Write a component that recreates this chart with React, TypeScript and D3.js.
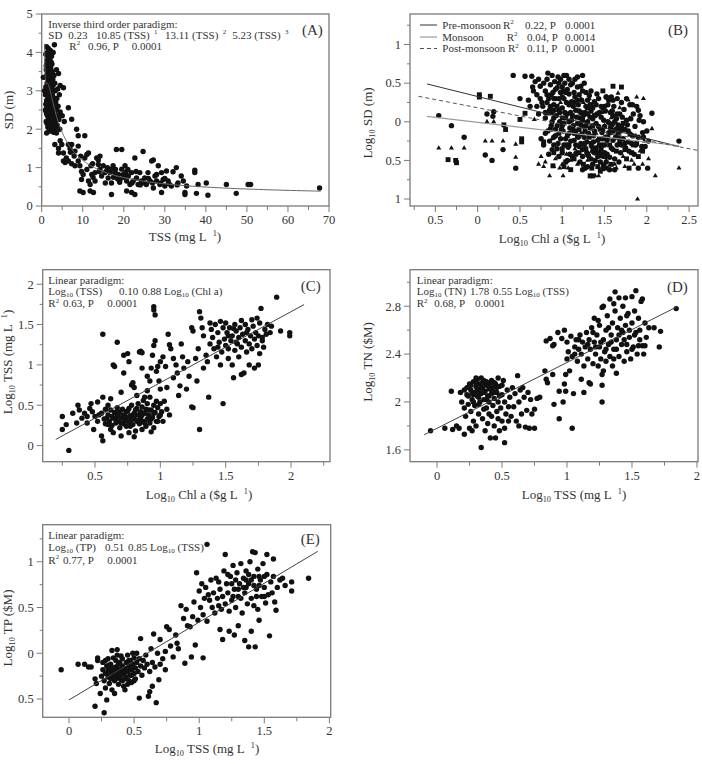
import React from "react";
import * as d3 from "d3";

type Pt = [number, number];

// ---------- (A) TSS (mg/L) vs Secchi depth (m) ----------
const tssSd: Pt[] = [
  [1.2,4.15],[1.6,4.1],[2.1,4.05],[3.1,4.2],[2.8,4.0],[1.0,3.95],[1.5,3.9],[2.0,3.85],[1.3,3.8],[1.8,3.75],
  [2.5,3.7],[1.1,3.65],[1.6,3.6],[2.2,3.6],[1.4,3.5],[2.0,3.45],[3.6,3.55],[4.1,3.45],[1.2,3.4],[1.7,3.35],
  [2.4,3.3],[0.8,3.35],[0.4,3.35],[1.5,3.25],[2.1,3.2],[2.8,3.15],[1.0,3.1],[1.6,3.05],[2.3,3.0],[1.3,2.95],
  [1.9,2.95],[2.6,2.9],[4.5,3.14],[5.3,3.08],[0.9,2.9],[1.5,2.85],[2.2,2.8],[3.0,2.8],[1.2,2.75],[1.8,2.7],
  [2.5,2.7],[3.4,2.7],[1.0,2.65],[1.6,2.6],[2.3,2.6],[4.0,2.6],[1.3,2.55],[2.0,2.5],[2.8,2.5],[3.6,2.5],
  [6.5,2.56],[1.1,2.45],[1.7,2.4],[2.4,2.4],[3.2,2.4],[4.5,2.45],[1.4,2.35],[2.1,2.3],[2.9,2.3],[5.0,2.35],
  [1.6,2.25],[2.3,2.2],[3.3,2.2],[4.2,2.25],[1.9,2.15],[2.7,2.1],[3.8,2.1],[5.5,2.2],[1.5,2.05],[2.4,2.0],
  [3.2,2.0],[4.4,2.0],[1.8,1.95],[2.9,1.92],[7.3,2.26],[8.5,2.0],[1.2,1.9],[1.9,1.95],[1.4,4.0],[1.9,3.95],
  [2.4,3.9],[1.2,3.7],[1.7,3.55],[2.6,3.5],[1.9,3.3],[1.3,3.2],[2.0,3.1],[2.6,3.05],[1.7,2.85],[2.1,2.65],
  [1.5,2.45],[1.9,2.35],[2.6,2.3],[1.3,2.15],[2.0,2.05],[2.6,1.98],[3.5,2.3],[3.0,2.6],[2.7,2.85],[3.3,3.0],
  [1.1,3.55],[0.7,3.0],[0.9,2.5],[1.1,2.2],[3.0,3.4],[2.3,3.75],[1.7,4.05],[2.4,2.15],[3.9,2.35],[3.1,2.15],
  [1.4,3.0],[1.8,2.9],[2.2,2.5],[1.6,2.15],[2.8,2.2],[1.3,2.6],[2.7,3.3],[3.2,3.2],[2.2,3.35],[1.8,3.1],
  [1.4,2.7],[2.0,2.75],[2.5,2.55],[1.7,2.5],[1.2,2.4],[2.3,2.45],[3.7,2.8],[4.3,2.9],[3.9,3.05],
  [3.6,1.9],[4.5,1.7],[4.1,1.5],[3.2,1.6],[4.9,1.6],[4.1,1.38],[5.3,1.38],[6.5,1.6],[7.3,1.6],[6.9,1.5],
  [8.9,1.56],[8.9,1.83],[10.5,1.83],[8.1,1.43],[5.3,1.17],[5.7,1.13],[6.5,1.17],[7.3,1.1],[8.1,1.05],[8.9,1.17],
  [9.3,1.05],[7.9,1.3],[10.5,1.25],[11,1.34],[11.4,1.38],[9.7,0.9],[10.1,0.82],[9.7,0.69],[9.3,0.39],[10.1,0.35],
  [11.8,0.39],[12.6,0.35],[11.4,0.65],[11.8,0.56],[12.2,0.82],[13,0.87],[13.4,1.25],[13.8,1.2],[14.2,1.3],[13.8,1.08],
  [14.2,0.95],[15,1.05],[15.4,0.87],[14.6,0.78],[15.8,0.91],[16.2,0.73],[16.6,0.87],[17,0.6],[17,0.3],[17.4,1.05],
  [17.8,0.87],[18.2,1.47],[18.7,0.82],[19.1,0.69],[19.5,1.47],[19.5,0.96],[19.9,0.82],[20.3,1.05],[20.7,0.65],[20.7,0.39],
  [21.1,0.78],[21.5,0.56],[21.9,0.87],[21.9,0.35],[22.3,0.65],[22.7,1.25],[22.7,0.3],[23.1,0.73],[23.5,0.56],[23.9,0.87],
  [24.3,0.65],[24.7,1.42],[25.1,0.73],[25.5,0.56],[25.9,0.87],[26.4,0.65],[26.8,1.17],[27.2,0.47],[27.2,1.2],[27.6,0.78],
  [28,0.65],[28.4,1.05],[28.8,0.56],[29.2,0.87],[29.2,0.35],[29.6,0.69],[30,0.52],[30.4,0.91],[30.8,0.65],[31.6,0.52],
  [32,0.89],[32.8,1.0],[33.2,0.6],[34,0.78],[34.5,0.65],[34.9,0.35],[34.9,0.3],[35.3,0.52],[37.3,0.93],[37.3,0.87],
  [37.7,0.33],[38.1,0.56],[40.1,0.6],[40.5,0.28],[45,0.56],[47.4,0.33],[50.3,0.56],[50.9,0.56],[67.7,0.47],
  [11,0.95],[12,1.05],[12.5,0.75],[13,0.65],[14,0.9],[15.5,0.6],[16,1.0],[17.5,0.75],[18,0.95],[19,0.62],
  [20,0.75],[21,0.95],[22,0.6],[23,0.9],[24,0.55],[25,0.6],[26,0.72],[27,0.6],[28,0.82],[29,0.6],
  [30,0.72],[31,0.58],[33,0.55],[6.0,1.25],[7.0,1.4],[9.5,1.3],[12.4,1.1],[16.8,0.95],[18.5,0.7],[20.5,0.88],
];
// fitted inverse third-order model: SD = 0.23 + 10.85/TSS - 13.11/TSS^2 + 5.23/TSS^3
const invCoef = [0.23, 10.85, -13.11, 5.23];
const invRange: [number, number] = [0.7, 68];

// ---------- (B) log Chl a vs log SD, by season ----------
const preMonsoon: Pt[] = [
  [-0.46,0.08],[-0.31,-0.05],[-0.16,-0.2],[0.11,0.1],[0.19,0.13],[0.18,0.07],[0.09,-0.43],[0.17,-0.5],[0.3,-0.36],
  [0.45,-0.6],[0.42,0.6],[0.5,0.3],[0.56,0.59],[0.64,0.59],[0.83,0.63],[1.05,0.6],[1.24,0.6],[2.06,0.11],[2.38,-0.25],
  [1.9,-0.6],[2.01,-0.6],[1.27,-0.6],[1.48,-0.6],
  [0.6,0.28],[0.62,0.2],[0.65,0.45],[0.68,0.52],[0.7,0.35],[0.72,0.1],[0.74,0.46],[0.75,-0.22],[0.76,0.25],[0.78,0.5],
  [0.78,-0.3],[0.8,0.4],[0.8,0.05],[0.82,0.55],[0.83,-0.12],[0.84,0.3],[0.85,0.15],[0.86,0.48],[0.87,-0.05],[0.88,-0.36],
  [0.89,0.38],[0.9,0.22],[0.91,0.52],[0.92,-0.18],[0.93,0.08],[0.94,0.44],[0.95,-0.28],[0.96,0.3],[0.97,0.0],[0.98,0.55],
  [0.99,-0.1],[1.0,0.18],[1.0,-0.4],[1.01,0.4],[1.02,-0.02],[1.03,0.5],[1.04,-0.22],[1.05,0.25],[1.06,0.1],[1.07,-0.33],
  [1.08,0.36],[1.09,-0.08],[1.1,0.48],[1.11,0.02],[1.12,-0.45],[1.13,0.2],[1.14,-0.15],[1.15,0.32],[1.16,-0.3],[1.17,0.06],
  [1.18,0.45],[1.19,-0.2],[1.2,0.14],[1.21,-0.52],[1.22,-0.04],[1.23,0.28],[1.24,-0.36],[1.25,0.08],[1.26,0.5],[1.27,-0.12],
  [1.28,0.2],[1.29,-0.26],[1.3,0.0],[1.31,-0.44],[1.32,0.34],[1.33,-0.08],[1.34,0.14],[1.35,-0.32],[1.36,0.04],[1.37,-0.18],
  [1.38,0.26],[1.39,-0.5],[1.4,-0.02],[1.41,0.1],[1.42,-0.24],[1.43,0.3],[1.44,-0.4],[1.45,-0.1],[1.46,0.06],[1.47,-0.3],
  [1.48,0.18],[1.49,-0.56],[1.5,-0.06],[1.51,-0.2],[1.52,0.32],[1.53,-0.42],[1.54,0.0],[1.55,-0.14],[1.56,-0.62],[1.57,0.12],
  [1.58,-0.34],[1.59,-0.04],[1.6,-0.24],[1.61,0.2],[1.62,-0.48],[1.63,-0.1],[1.64,0.04],[1.65,-0.3],[1.66,-0.16],[1.68,0.1],
  [1.69,-0.4],[1.7,-0.06],[1.72,-0.22],[1.73,0.16],[1.75,-0.34],[1.76,0.02],[1.78,-0.12],[1.8,0.22],[1.82,-0.28],[1.84,0.1],
  [1.86,-0.06],[1.88,0.2],[1.9,-0.2],[1.92,0.08],[1.94,-0.32],[1.96,0.0],[2.0,-0.12],[1.85,-0.42],[1.58,0.32],[1.52,0.32],
  [0.86,0.2],[0.94,-0.05],[1.02,0.3],[1.1,-0.25],[1.18,-0.02],[1.26,-0.2],[1.34,0.4],[1.42,-0.45],[1.06,-0.5],[0.95,0.58],
  [1.15,0.55],[0.88,0.0],[1.0,0.45],[1.2,0.35],[1.3,-0.58],[1.45,-0.52],[1.55,0.28],[1.65,0.3],[0.77,0.2],[0.92,0.3],
  [0.97,0.12],[1.04,0.05],[1.12,-0.1],[1.16,0.15],[1.22,-0.28],[1.28,-0.05],[1.33,0.22],[1.38,-0.12],[1.44,0.12],[1.5,-0.3],
  [1.56,-0.02],[1.6,0.08],[1.66,-0.04],[1.7,-0.3],[1.74,-0.1],[0.82,0.35],[0.9,-0.2],[1.08,-0.15],[1.24,-0.45],[1.36,-0.38],
  [0.8,-0.15],[0.82,0.25],[0.85,-0.25],[0.87,0.35],[0.9,0.05],[0.92,0.42],[0.94,-0.35],[0.96,0.15],[0.98,-0.22],[1.0,0.32],
  [1.01,-0.12],[1.03,0.12],[1.05,-0.3],[1.06,0.42],[1.08,0.0],[1.09,-0.42],[1.11,0.26],[1.13,-0.05],[1.14,0.38],[1.16,-0.12],
  [1.17,-0.4],[1.19,0.22],[1.2,-0.32],[1.21,0.05],[1.23,-0.16],[1.24,0.4],[1.26,-0.06],[1.27,0.12],[1.29,-0.4],[1.3,0.28],
  [1.31,-0.15],[1.33,0.06],[1.34,-0.48],[1.36,0.18],[1.37,-0.26],[1.39,0.08],[1.4,-0.34],[1.41,0.36],[1.43,-0.06],[1.44,-0.3],
  [1.46,0.2],[1.47,-0.14],[1.49,0.02],[1.5,-0.4],[1.51,0.14],[1.53,-0.24],[1.54,0.22],[1.56,-0.46],[1.57,-0.08],[1.59,0.14],
  [1.6,-0.36],[1.62,0.0],[1.63,-0.2],[1.65,0.1],[1.67,-0.52],[1.69,-0.12],[1.71,0.06],[1.74,-0.28],[1.77,-0.04],[1.79,-0.38],
  [1.81,0.04],[1.83,-0.18],[1.87,-0.3],[1.91,0.02],[1.95,-0.14],[0.84,-0.42],[0.9,-0.3],[0.96,-0.45],[1.04,0.38],[1.12,0.5],
  [1.22,0.46],[1.28,0.38],[1.18,0.28],[1.08,0.22],[0.98,0.38],[0.88,0.12],[0.92,-0.1],[1.02,-0.3],[1.14,-0.24],[1.26,-0.3],
  [1.38,-0.4],[1.48,-0.22],[1.58,-0.14],[1.68,-0.22],[1.78,-0.26],[1.46,-0.44],[1.36,-0.55],[1.24,-0.62],[1.52,-0.52],[1.62,-0.62],
  [1.7,0.25],[1.76,0.3],[1.83,0.22],[1.9,0.15],[1.96,-0.2],[1.98,-0.32],[2.02,-0.25],[1.6,0.28],[1.5,0.2],[1.4,0.22],
  [1.3,0.1],[1.2,-0.02],[1.1,0.12],[1.0,-0.05],[0.9,0.3],[0.8,0.12],[0.74,0.3],[0.7,0.2],[0.66,0.4],[0.72,0.55],
  [0.88,0.6],[0.96,0.5],[1.08,0.55],[1.18,0.58],[1.02,0.6],
];
const monsoon: Pt[] = [
  [-0.35,-0.49],[-0.26,-0.5],[-0.25,-0.53],[0.02,0.35],[0.02,0.32],[0.15,0.33],[0.31,-0.04],[0.33,-0.1],[0.5,0.03],
  [0.52,-0.22],[0.52,-0.26],[0.56,0.11],[0.89,-0.57],[1.33,-0.7],[1.36,-0.7],[1.6,0.46],[1.79,-0.6],
  [0.78,-0.26],[0.82,0.12],[0.9,-0.4],[0.96,-0.15],[1.0,0.05],[1.04,-0.52],[1.08,-0.3],[1.12,0.08],[1.16,-0.42],[1.2,-0.1],
  [1.24,0.02],[1.28,-0.35],[1.32,-0.2],[1.36,-0.05],[1.4,-0.38],[1.44,-0.22],[1.48,-0.1],[1.52,-0.6],[1.56,-0.3],[1.6,-0.12],
  [1.64,-0.38],[1.68,-0.26],[1.72,-0.02],[1.76,-0.48],[1.8,-0.16],[1.84,-0.3],[1.9,-0.45],[1.95,-0.38],[1.1,-0.62],[1.25,-0.55],
  [1.45,-0.64],[0.9,0.15],[1.14,0.25],[1.3,0.18],[1.48,0.4],[1.7,0.45],[1.02,-0.58],[1.18,-0.18],[1.34,-0.28],[1.5,-0.45],
  [0.86,-0.1],[0.94,0.2],[1.06,-0.18],[1.14,-0.48],[1.22,0.12],[1.3,-0.42],[1.38,0.08],[1.42,-0.58],[1.54,-0.2],[1.58,-0.55],
  [1.66,-0.08],[1.74,-0.36],[1.82,-0.4],[1.88,-0.28],[1.0,-0.35],[1.2,-0.4],[1.35,-0.6],[1.46,-0.35],
];
const postMonsoon: Pt[] = [
  [-0.46,-0.34],[-0.31,-0.34],[-0.16,-0.34],[0.11,0.0],[0.19,0.0],[0.09,-0.25],[0.17,-0.25],[0.3,-0.25],[0.45,-0.29],
  [0.45,-0.46],[0.67,0.03],[1.66,0.37],[1.96,0.3],[2.06,-0.09],[2.38,-0.6],[2.1,-0.7],[1.89,-1.0],[1.64,-0.6],[0.85,-0.7],
  [1.01,-0.7],[1.39,-0.7],[1.43,-0.7],[0.97,-0.6],[1.07,-0.6],
  [0.75,-0.45],[0.8,-0.52],[0.84,0.1],[0.92,-0.48],[0.98,0.25],[1.05,-0.42],[1.12,0.26],[1.18,-0.55],[1.22,0.3],[1.3,-0.5],
  [1.35,0.22],[1.4,-0.15],[1.47,0.12],[1.52,-0.5],[1.58,0.05],[1.62,-0.55],[1.68,0.18],[1.72,-0.45],[1.78,0.28],[1.82,-0.5],
  [1.87,-0.18],[1.92,-0.38],[1.97,-0.25],[2.02,-0.48],[1.15,-0.35],[1.25,-0.28],[0.88,-0.22],[0.72,-0.55],
  [0.78,-0.58],[0.9,-0.58],[1.0,-0.55],[1.1,-0.5],[1.28,-0.6],[1.48,-0.62],[1.56,-0.56],[1.74,-0.58],[1.85,-0.55],[1.95,-0.55],
  [0.95,0.15],[1.25,0.25],[1.6,0.15],[1.8,0.05],[1.88,0.32],[1.7,-0.1],[1.5,-0.05],[1.32,0.3],
];
// regression lines, [start, end] in (log Chl a, log SD)
const preFit: Pt[] = [[-0.6, 0.49], [2.38, -0.32]];
const monFit: Pt[] = [[-0.6, 0.07], [2.38, -0.31]];
const postFit: Pt[] = [[-0.7, 0.33], [2.6, -0.37]];

// ---------- (C) log Chl a vs log TSS ----------
const chlTss: Pt[] = [
  [0.25,0.2],[0.25,0.36],[0.3,-0.06],[0.28,0.26],[0.33,0.4],[0.36,0.28],[0.37,0.5],[0.4,0.34],[0.42,0.4],[0.44,0.28],
  [0.46,0.46],[0.47,0.52],[0.49,0.2],[0.5,0.36],[0.52,0.54],[0.53,0.38],[0.55,0.12],[0.56,0.06],[0.56,1.38],[0.56,0.6],
  [0.58,0.45],[0.59,0.34],[0.6,0.5],[0.62,0.58],[0.64,1.0],[0.65,0.98],[0.67,1.28],[0.64,0.16],[0.66,0.32],
  [0.57,0.33],[0.58,0.27],[0.6,0.38],[0.61,0.3],[0.62,0.44],[0.63,0.25],[0.63,0.36],[0.65,0.41],[0.66,0.28],[0.67,0.37],
  [0.67,0.47],[0.68,0.3],[0.69,0.22],[0.69,0.4],[0.7,0.34],[0.71,0.45],[0.72,0.27],[0.72,0.38],[0.73,0.31],[0.74,0.42],
  [0.74,0.24],[0.75,0.35],[0.76,0.29],[0.76,0.46],[0.77,0.37],[0.78,0.32],[0.78,0.5],[0.79,0.26],[0.8,0.4],[0.8,0.34],
  [0.81,0.18],[0.81,0.44],[0.82,0.3],[0.83,0.38],[0.83,0.52],[0.84,0.27],[0.85,0.42],[0.85,0.35],[0.86,0.48],[0.87,0.3],
  [0.87,0.56],[0.88,0.4],[0.89,0.24],[0.89,0.45],[0.9,0.33],[0.9,0.52],[0.91,0.38],[0.92,0.28],[0.92,0.6],[0.93,0.44],
  [0.94,0.35],[0.95,0.5],[0.95,0.22],[0.96,0.41],[0.97,0.3],[0.97,0.55],[0.98,0.47],[0.99,0.36],[1.0,0.52],[1.01,0.42],
  [1.02,0.3],[1.03,0.55],[1.05,0.45],[1.07,0.38],[0.62,0.2],[0.7,0.12],[0.76,0.16],[0.8,0.11],[0.86,0.2],[0.93,0.17],
  [0.6,0.26],[0.64,0.34],[0.68,0.42],[0.7,0.28],[0.73,0.36],[0.75,0.43],[0.77,0.24],[0.79,0.38],[0.82,0.46],[0.84,0.32],
  [0.86,0.38],[0.88,0.28],[0.91,0.44],[0.93,0.33],[0.95,0.4],[0.98,0.3],[1.0,0.38],[0.55,0.4],[0.52,0.3],[0.48,0.42],
  [0.44,0.36],[0.38,0.44],
  [0.7,0.66],[0.72,1.12],[0.75,1.14],[0.76,1.04],[0.72,0.9],[0.78,0.75],[0.79,0.78],[0.8,0.72],[0.82,0.62],[0.84,1.16],
  [0.85,1.17],[0.86,1.15],[0.86,0.96],[0.88,0.6],[0.9,0.68],[0.9,0.86],[0.92,0.8],[0.93,0.96],[0.94,1.12],[0.95,1.24],
  [0.96,1.3],[0.95,1.72],[0.95,1.68],[0.96,1.62],[0.97,0.92],[0.98,0.98],[0.99,0.8],[1.0,0.7],[1.0,1.04],[1.02,1.1],
  [1.04,0.98],[1.05,0.72],[1.06,1.38],[1.07,1.25],[1.08,1.2],[1.1,1.08],[1.1,0.84],[1.12,1.0],[1.13,0.9],[1.14,0.62],
  [1.15,0.74],[1.16,1.26],[1.17,1.1],[1.18,0.96],[1.2,0.7],[1.21,1.04],[1.22,0.86],[1.24,1.46],[1.25,1.42],[1.24,0.48],
  [1.25,0.47],[1.27,1.08],[1.28,0.8],[1.29,1.2],[1.3,0.2],[1.3,1.66],[1.31,1.58],[1.32,1.46],[1.33,1.36],[1.33,0.96],
  [1.35,1.12],[1.36,1.04],[1.37,0.6],[1.38,1.26],
  [1.38,1.52],[1.39,1.44],[1.4,1.34],[1.41,1.2],[1.42,1.5],[1.43,1.1],[1.44,1.4],[1.45,1.28],[1.46,1.54],[1.46,1.0],
  [1.47,1.16],[1.48,0.52],[1.48,1.46],[1.49,1.32],[1.5,1.24],[1.5,1.52],[1.51,1.4],[1.52,1.08],[1.52,1.2],[1.53,1.46],
  [1.54,1.3],[1.55,1.0],[1.55,1.36],[1.56,0.84],[1.57,1.5],[1.57,1.18],[1.58,1.42],[1.59,1.26],[1.6,1.1],[1.6,1.34],
  [1.61,1.46],[1.62,0.88],[1.62,1.22],[1.63,1.38],[1.64,0.9],[1.65,1.3],[1.65,1.5],[1.66,1.16],[1.67,1.44],[1.68,1.0],
  [1.68,1.26],[1.69,1.36],[1.7,1.56],[1.7,1.2],[1.71,1.48],[1.72,1.32],[1.72,0.96],[1.73,1.4],[1.74,1.24],[1.74,1.58],
  [1.75,1.0],[1.75,1.36],[1.76,1.14],[1.76,1.52],[1.77,1.7],[1.78,1.3],[1.79,1.22],[1.8,1.44],[1.81,1.38],[1.82,1.5],
  [1.84,1.4],[1.85,1.48],[1.89,1.84],[1.92,1.42],[1.99,1.4],[1.99,1.36],[1.78,1.34],[1.66,1.4],[1.58,1.28],[1.52,1.36],
  [1.44,1.22],[1.62,1.55],[1.56,1.45],
];
const fitC = { intercept: -0.10, slope: 0.88, from: 0.2, to: 2.1 };

// ---------- (D) log TSS vs log TN ----------
const tssTn: Pt[] = [
  [-0.05,1.76],[0.06,1.78],[0.12,1.77],[0.11,2.09],[0.15,1.8],[0.17,1.78],[0.18,2.08],[0.19,2.0],[0.21,2.1],[0.21,1.95],
  [0.21,1.73],[0.22,1.88],[0.23,2.12],[0.24,2.05],[0.25,1.78],[0.25,2.15],[0.26,1.92],[0.26,2.1],[0.27,1.76],[0.27,2.02],
  [0.28,2.17],[0.28,1.84],[0.29,2.08],[0.29,1.97],[0.3,2.13],[0.3,1.8],[0.31,2.05],[0.31,2.19],[0.32,1.9],[0.32,2.1],
  [0.33,2.0],[0.33,2.15],[0.34,1.62],[0.34,2.07],[0.35,1.86],[0.35,2.12],[0.36,2.02],[0.36,2.18],[0.37,1.76],[0.37,2.09],
  [0.38,1.95],[0.38,2.14],[0.39,2.05],[0.39,1.82],[0.4,2.11],[0.4,2.0],[0.41,1.7],[0.41,2.16],[0.42,1.88],[0.42,2.07],
  [0.43,2.12],[0.43,1.97],[0.44,2.03],[0.44,1.8],[0.45,1.7],[0.45,2.15],[0.46,1.92],[0.46,2.08],[0.47,2.0],[0.47,1.86],
  [0.48,2.13],[0.48,1.76],[0.49,1.95],[0.5,2.06],[0.5,1.84],[0.51,2.18],[0.52,1.66],[0.52,1.78],[0.52,2.0],[0.53,1.9],
  [0.54,2.1],[0.55,1.84],[0.55,1.96],[0.56,2.04],[0.57,1.88],[0.58,2.12],[0.59,1.96],[0.6,2.07],[0.61,1.84],[0.62,2.22],
  [0.63,1.8],[0.63,2.0],[0.64,2.1],[0.65,1.9],[0.66,2.12],[0.67,2.04],[0.68,1.79],[0.69,1.93],[0.7,2.08],[0.71,1.78],
  [0.72,2.02],[0.73,1.9],[0.75,1.78],[0.75,1.94],[0.77,2.03],[0.79,2.04],[0.28,2.0],[0.32,1.98],[0.36,1.94],[0.4,1.9],
  [0.24,1.98],[0.3,2.2],[0.34,2.2],[0.38,2.17],[0.42,2.18],[0.47,2.2],
  [0.26,2.14],[0.28,2.06],[0.3,2.16],[0.32,2.04],[0.34,2.12],[0.36,2.08],[0.38,2.02],[0.4,2.14],[0.42,2.1],[0.44,2.16],
  [0.46,2.12],[0.48,2.05],[0.5,2.14],[0.35,2.16],[0.31,2.1],[0.27,2.08],[0.23,2.06],[0.44,2.08],[0.4,2.05],[0.33,2.08],
  [0.83,2.26],[0.84,2.19],[0.85,2.16],[0.84,2.51],[0.87,2.53],[0.89,2.23],[0.89,2.47],[0.9,1.98],[0.9,2.48],[0.93,2.58],
  [0.94,1.86],[0.94,2.09],[0.97,2.0],[0.98,2.15],[0.98,2.6],[0.99,2.23],[0.99,2.09],[1.0,2.5],[1.01,2.42],[1.02,2.26],
  [1.03,2.55],[1.04,1.78],[1.04,2.38],[1.05,2.07],[1.06,2.46],[1.07,2.52],[1.08,2.34],[1.09,2.44],[1.1,2.56],[1.11,2.19],
  [1.11,2.4],[1.12,2.5],[1.13,2.08],[1.13,2.3],[1.14,2.46],[1.15,2.58],[1.16,2.36],[1.17,2.16],[1.17,2.52],[1.18,2.15],
  [1.18,2.44],[1.19,2.62],[1.2,2.32],[1.21,2.7],[1.21,2.5],[1.22,2.4],[1.23,2.56],[1.24,2.3],[1.25,2.64],[1.25,2.46],
  [1.26,2.36],[1.27,2.0],[1.27,2.14],[1.27,2.79],[1.27,2.23],[1.28,2.26],[1.28,2.8],[1.28,2.52],[1.29,2.42],[1.3,2.6],
  [1.3,2.34],[1.31,2.72],[1.32,2.48],[1.33,2.86],[1.33,2.38],[1.34,2.56],[1.35,2.66],[1.35,2.3],[1.36,2.44],[1.37,2.92],
  [1.37,2.76],[1.38,2.24],[1.38,2.52],[1.39,2.62],[1.4,2.87],[1.4,2.38],[1.41,2.7],[1.42,2.48],[1.43,2.58],[1.43,2.8],
  [1.44,2.34],[1.45,2.87],[1.45,2.64],[1.46,2.42],[1.47,2.74],[1.48,2.54],[1.49,2.36],[1.5,2.88],[1.5,2.66],[1.51,2.46],
  [1.52,2.76],[1.53,2.93],[1.53,2.58],[1.54,2.4],[1.55,2.47],[1.55,2.7],[1.56,2.6],[1.57,2.84],[1.58,2.47],[1.58,2.86],
  [1.59,2.4],[1.6,2.66],[1.6,2.47],[1.61,2.54],[1.63,2.62],[1.67,2.62],[1.71,2.46],[1.72,2.59],[1.84,2.78],[1.2,2.58],
  [1.24,2.68],[1.32,2.62],[1.36,2.82],[1.42,2.6],[1.46,2.72],[1.52,2.56],[1.16,2.48],[1.09,2.52],[1.06,2.4],[0.96,2.53],
  [1.0,2.36],[1.3,2.44],[1.34,2.5],[1.38,2.44],[1.44,2.52],[1.48,2.6],[1.4,2.56],[1.26,2.5],[1.22,2.46],[1.36,2.36],
  [1.5,2.44],[1.56,2.52],[1.46,2.48],
];
const fitD = { intercept: 1.78, slope: 0.55, from: -0.1, to: 1.84 };

// ---------- (E) log TSS vs log TP ----------
const tssTp: Pt[] = [
  [-0.06,-0.18],[0.07,-0.12],[0.12,-0.12],[0.15,-0.15],[0.17,-0.15],[0.2,-0.28],[0.21,-0.33],[0.2,-0.58],[0.22,-0.05],[0.22,-0.08],
  [0.24,-0.44],[0.25,-0.25],[0.26,-0.18],[0.26,-0.1],[0.27,-0.65],[0.27,-0.3],[0.28,-0.22],[0.28,-0.38],[0.29,-0.51],[0.29,-0.14],
  [0.3,-0.26],[0.3,-0.06],[0.31,-0.2],[0.31,-0.33],[0.32,-0.12],[0.32,-0.28],[0.33,-0.17],[0.33,-0.4],[0.34,-0.24],[0.34,-0.05],
  [0.35,-0.44],[0.35,-0.3],[0.36,-0.15],[0.36,-0.22],[0.37,-0.02],[0.37,-0.27],[0.38,-0.18],[0.38,-0.34],[0.39,-0.1],[0.39,-0.24],
  [0.4,-0.2],[0.4,-0.29],[0.41,-0.14],[0.41,-0.06],[0.42,-0.22],[0.42,-0.36],[0.43,-0.4],[0.43,-0.17],[0.44,-0.26],[0.44,-0.1],
  [0.45,-0.2],[0.45,-0.02],[0.46,-0.3],[0.46,-0.14],[0.47,-0.24],[0.47,-0.08],[0.48,-0.18],[0.48,-0.32],[0.49,0.0],[0.49,-0.12],
  [0.5,-0.22],[0.5,-0.05],[0.51,-0.16],[0.51,-0.28],[0.52,-0.1],[0.52,0.0],[0.53,-0.2],[0.54,-0.49],[0.54,-0.06],[0.55,-0.14],
  [0.55,0.16],[0.56,-0.24],[0.57,-0.08],[0.58,-0.16],[0.59,-0.02],[0.6,-0.12],[0.61,-0.47],[0.62,-0.42],[0.62,-0.2],[0.63,0.05],
  [0.64,-0.1],[0.64,-0.36],[0.65,0.21],[0.66,-0.15],[0.67,-0.54],[0.68,0.0],[0.69,-0.29],[0.7,0.15],[0.7,-0.12],[0.72,-0.06],
  [0.74,0.02],[0.74,-0.18],[0.36,-0.08],[0.31,-0.13],[0.4,-0.03],[0.45,-0.34],[0.28,-0.08],[0.5,-0.3],[0.33,0.03],[0.37,0.04],
  [0.32,-0.22],[0.34,-0.16],[0.36,-0.28],[0.38,-0.12],[0.4,-0.24],[0.42,-0.16],[0.44,-0.2],[0.46,-0.08],[0.48,-0.24],[0.35,-0.2],
  [0.39,-0.18],[0.43,-0.28],[0.3,-0.18],[0.47,-0.16],[0.41,-0.3],[0.37,-0.22],
  [0.75,0.29],[0.77,0.26],[0.78,0.08],[0.8,-0.04],[0.82,0.2],[0.83,0.11],[0.84,0.05],[0.86,0.52],[0.88,0.38],[0.89,-0.11],
  [0.9,0.48],[0.91,0.3],[0.93,0.29],[0.94,-0.04],[0.95,0.4],[0.96,0.56],[0.97,0.09],[0.98,0.88],[0.99,0.36],[1.0,0.68],
  [1.01,0.5],[1.02,0.76],[1.03,-0.05],[1.03,0.42],[1.04,0.6],[1.05,0.72],[1.06,1.19],[1.06,0.35],[1.07,0.64],[1.08,0.58],
  [1.09,0.8],[1.1,0.5],[1.11,0.66],[1.12,0.44],[1.13,0.82],[1.14,0.6],[1.15,0.52],[1.16,0.26],[1.16,0.7],[1.17,0.48],
  [1.18,0.15],[1.18,0.62],[1.19,0.9],[1.2,0.54],[1.2,1.08],[1.21,0.76],[1.22,0.66],[1.23,0.24],[1.23,0.46],[1.24,0.84],
  [1.25,0.58],[1.26,0.96],[1.27,0.7],[1.27,0.2],[1.28,0.5],[1.29,0.88],[1.3,0.62],[1.3,0.3],[1.31,0.76],[1.32,0.98],
  [1.33,0.44],[1.34,0.82],[1.35,0.66],[1.35,0.14],[1.36,0.9],[1.37,0.54],[1.38,0.07],[1.38,0.76],[1.39,1.0],[1.4,0.6],
  [1.4,0.24],[1.41,1.11],[1.42,0.84],[1.43,1.1],[1.43,0.07],[1.44,0.7],[1.45,0.48],[1.45,0.92],[1.46,0.36],[1.47,0.8],
  [1.48,0.62],[1.49,0.98],[1.5,0.72],[1.51,0.55],[1.52,1.08],[1.52,0.86],[1.53,0.64],[1.54,0.19],[1.55,0.78],[1.56,0.66],
  [1.57,1.03],[1.57,0.84],[1.58,0.56],[1.59,0.47],[1.6,0.72],[1.62,0.8],[1.64,0.82],[1.66,0.74],[1.71,0.68],[1.71,0.78],
  [1.84,0.82],[1.25,0.76],[1.32,0.6],[1.46,0.74],[1.42,0.52],[1.36,0.72],[1.5,0.84],[1.28,0.8],[1.22,0.86],[1.15,0.78],
  [1.3,0.7],[1.34,0.72],[1.38,0.86],[1.42,0.74],[1.46,0.84],[1.26,0.62],[1.4,0.8],[1.44,0.62],[1.5,0.62],[1.36,0.8],
];
const fitE = { intercept: -0.51, slope: 0.85, from: 0.0, to: 1.91 };

// ---------- axis ticks ----------
const aXTicks = [0, 10, 20, 30, 40, 50, 60, 70];
const aXMinor = [5, 15, 25, 35, 45, 55, 65];
const aYTicks = [0, 1, 2, 3, 4, 5];
const aYMinor = [0.5, 1.5, 2.5, 3.5, 4.5];
const bXTicks = [-0.5, 0, 0.5, 1, 1.5, 2, 2.5];
const bXMinor = [-0.75, -0.25, 0.25, 0.75, 1.25, 1.75, 2.25];
const bYTicks = [-1, -0.5, 0, 0.5, 1];
const bYMinor = [-0.75, -0.25, 0.25, 0.75, 1.25];
const cXTicks = [0.5, 1, 1.5, 2];
const cXMinor = [0.25, 0.75, 1.25, 1.75, 2.25];
const cYTicks = [0, 0.5, 1, 1.5, 2];
const cYMinor = [0.25, 0.75, 1.25, 1.75];
const dXTicks = [0, 0.5, 1, 1.5, 2];
const dXMinor = [0.25, 0.75, 1.25, 1.75];
const dYTicks = [1.6, 2, 2.4, 2.8];
const dYMinor = [1.8, 2.2, 2.6, 3.0];
const eXTicks = [0, 0.5, 1, 1.5, 2];
const eXMinor = [0.25, 0.75, 1.25, 1.75];
const eYTicks = [-0.5, 0, 0.5, 1];
const eYMinor = [-0.25, 0.25, 0.75, 1.25];

// ---------- layout ----------
type Layout = { left: number; right: number; top: number; bottom: number; xDomain: [number, number]; yDomain: [number, number] };
const LA: Layout = { left: 41.7, right: 329, top: 14, bottom: 206, xDomain: [0, 70], yDomain: [0, 5] };
const LB: Layout = { left: 410, right: 698, top: 14, bottom: 206, xDomain: [-0.8, 2.605], yDomain: [-1.09, 1.395] };
const LC: Layout = { left: 42.7, right: 330, top: 269.7, bottom: 461.7, xDomain: [0.1, 2.298], yDomain: [-0.2, 2.18] };
const LD: Layout = { left: 410, right: 698, top: 269.7, bottom: 461.7, xDomain: [-0.208, 2.008], yDomain: [1.501, 3.105] };
const LE: Layout = { left: 42.7, right: 330.7, top: 524.7, bottom: 717.3, xDomain: [-0.202, 2.01], yDomain: [-0.7, 1.405] };

const FONT = "Liberation Serif, Times New Roman, serif";
const FRAME = "#7a7a7a";
const TEXT = "#333";
const DOT = "#111";

const scalesOf = (L: Layout) => ({
  x: d3.scaleLinear().domain(L.xDomain).range([L.left, L.right]),
  y: d3.scaleLinear().domain(L.yDomain).range([L.bottom, L.top]),
});
type Scales = ReturnType<typeof scalesOf>;

// printed tick labels carry no sign
const fmt = (v: number) => String(Math.abs(+v.toFixed(2)));

type Seg = string | [string, "sub" | "sup"];

function Rich({ x, y, segs, size, anchor = "start", rotate = false }: {
  x: number; y: number; segs: Seg[]; size: number; anchor?: string; rotate?: boolean;
}) {
  let cur = 0;
  const parts = segs.map((s, i) => {
    const [t, m] = typeof s === "string" ? [s, null] : s;
    const target = m === "sub" ? size * 0.22 : m === "sup" ? -size * 0.4 : 0;
    const dy = target - cur;
    cur = target;
    return (
      <tspan key={i} dy={dy} fontSize={m ? size * 0.64 : size}>
        {t}
      </tspan>
    );
  });
  return (
    <text
      x={rotate ? 0 : x}
      y={rotate ? 0 : y}
      transform={rotate ? `translate(${x},${y}) rotate(-90)` : undefined}
      textAnchor={anchor as any}
      fontFamily={FONT}
      fontSize={size}
      fill={TEXT}
      style={{ whiteSpace: "pre" }}
    >
      {parts}
    </text>
  );
}

function Axes({ L, s, xt, xm, yt, ym }: { L: Layout; s: Scales; xt: number[]; xm: number[]; yt: number[]; ym: number[] }) {
  return (
    <g>
      <rect x={L.left} y={L.top} width={L.right - L.left} height={L.bottom - L.top} fill="none" stroke={FRAME} strokeWidth={1.3} />
      {xt.map((v) => (
        <g key={"xt" + v}>
          <line x1={s.x(v)} x2={s.x(v)} y1={L.bottom} y2={L.bottom + 6} stroke={FRAME} strokeWidth={1} />
          <text x={s.x(v)} y={L.bottom + 18} textAnchor="middle" fontFamily={FONT} fontSize={12.5} fill={TEXT}>
            {fmt(v)}
          </text>
        </g>
      ))}
      {xm.map((v) => (
        <line key={"xm" + v} x1={s.x(v)} x2={s.x(v)} y1={L.bottom} y2={L.bottom + 4} stroke={FRAME} strokeWidth={1} />
      ))}
      {yt.map((v) => (
        <g key={"yt" + v}>
          <line x1={L.left - 6} x2={L.left} y1={s.y(v)} y2={s.y(v)} stroke={FRAME} strokeWidth={1} />
          <text x={L.left - 9} y={s.y(v) + 4.3} textAnchor="end" fontFamily={FONT} fontSize={12.5} fill={TEXT}>
            {fmt(v)}
          </text>
        </g>
      ))}
      {ym.map((v) => (
        <line key={"ym" + v} x1={L.left - 3} x2={L.left} y1={s.y(v)} y2={s.y(v)} stroke={FRAME} strokeWidth={1} />
      ))}
    </g>
  );
}

function Dots({ data, s, r = 2.7 }: { data: Pt[]; s: Scales; r?: number }) {
  return (
    <g>
      {data.map((d, i) => (
        <circle key={i} cx={s.x(d[0])} cy={s.y(d[1])} r={r} fill={DOT} />
      ))}
    </g>
  );
}

function Symbols({ data, s, type, size }: { data: Pt[]; s: Scales; type: d3.SymbolType; size: number }) {
  const path = d3.symbol().type(type).size(size)() as string;
  return (
    <g>
      {data.map((d, i) => (
        <path key={i} d={path} transform={`translate(${s.x(d[0])},${s.y(d[1])})`} fill={DOT} />
      ))}
    </g>
  );
}

function linePath(pts: Pt[], s: Scales) {
  return d3.line<Pt>().x((d) => s.x(d[0])).y((d) => s.y(d[1]))(pts) as string;
}

function FitLine({ fit, s }: { fit: { intercept: number; slope: number; from: number; to: number }; s: Scales }) {
  const pts: Pt[] = [fit.from, fit.to].map((v) => [v, fit.intercept + fit.slope * v]);
  return <path d={linePath(pts, s)} fill="none" stroke="#444" strokeWidth={1} />;
}

export default function App() {
  const sA = scalesOf(LA);
  const sB = scalesOf(LB);
  const sC = scalesOf(LC);
  const sD = scalesOf(LD);
  const sE = scalesOf(LE);

  const invCurve: Pt[] = d3
    .range(0, 201)
    .map((i) => invRange[0] * Math.pow(invRange[1] / invRange[0], i / 200))
    .map((t) => [t, invCoef[0] + invCoef[1] / t + invCoef[2] / (t * t) + invCoef[3] / (t * t * t)]);

  const ann = 11;
  const title = 13;

  return (
    <svg width={702} height={764} style={{ position: "absolute", left: 0, top: 0, background: "#fff" }}>
      <rect width={702} height={764} fill="#fff" />

      {/* (A) */}
      <Axes L={LA} s={sA} xt={aXTicks} xm={aXMinor} yt={aYTicks} ym={aYMinor} />
      <Dots data={tssSd} s={sA} />
      <path d={linePath(invCurve, sA)} fill="none" stroke="#666" strokeWidth={1} />
      <Rich x={48.3} y={27.5} size={ann} segs={["Inverse third order paradigm:"]} />
      <Rich x={48.3} y={38.5} size={ann} segs={["SD"]} />
      <Rich x={68.3} y={38.5} size={ann} segs={["0.23"]} />
      <Rich x={96} y={38.5} size={ann} segs={["10.85 (TSS)"]} />
      <Rich x={154} y={38.5} size={ann} segs={[["1", "sup"]]} />
      <Rich x={165} y={38.5} size={ann} segs={["13.11 (TSS)"]} />
      <Rich x={222.7} y={38.5} size={ann} segs={[["2", "sup"]]} />
      <Rich x={232.3} y={38.5} size={ann} segs={["5.23 (TSS)"]} />
      <Rich x={285} y={38.5} size={ann} segs={[["3", "sup"]]} />
      <Rich x={69.3} y={49.5} size={ann} segs={["R", ["2", "sup"]]} />
      <Rich x={88} y={49.5} size={ann} segs={["0.96, P"]} />
      <Rich x={131.7} y={49.5} size={ann} segs={["0.0001"]} />
      <Rich x={302} y={35} size={15} segs={["(A)"]} />
      <Rich x={185} y={241} size={title} anchor="middle" segs={["TSS (mg L  ", ["1", "sup"], ")"]} />
      <Rich x={13} y={110} size={title} anchor="middle" rotate segs={["SD (m)"]} />

      {/* (B) */}
      <Axes L={LB} s={sB} xt={bXTicks} xm={bXMinor} yt={bYTicks} ym={bYMinor} />
      <Symbols data={postMonsoon} s={sB} type={d3.symbolTriangle} size={11} />
      <Symbols data={monsoon} s={sB} type={d3.symbolSquare} size={24} />
      <Dots data={preMonsoon} s={sB} r={2.7} />
      <path d={linePath(preFit, sB)} fill="none" stroke="#333" strokeWidth={1} />
      <path d={linePath(monFit, sB)} fill="none" stroke="#9a9a9a" strokeWidth={1.2} />
      <path d={linePath(postFit, sB)} fill="none" stroke="#555" strokeWidth={1} strokeDasharray="4,3" />
      <line x1={420} x2={437} y1={25} y2={25} stroke="#333" strokeWidth={1} />
      <line x1={420} x2={437} y1={37} y2={37} stroke="#9a9a9a" strokeWidth={1.2} />
      <line x1={420} x2={437} y1={48.5} y2={48.5} stroke="#555" strokeWidth={1} strokeDasharray="4,3" />
      <Rich x={442.3} y={28.8} size={ann} segs={["Pre-monsoon"]} />
      <Rich x={503} y={28.8} size={ann} segs={["R", ["2", "sup"]]} />
      <Rich x={525} y={28.8} size={ann} segs={["0.22, P"]} />
      <Rich x={565} y={28.8} size={ann} segs={["0.0001"]} />
      <Rich x={442.3} y={40.5} size={ann} segs={["Monsoon"]} />
      <Rich x={506.7} y={40.5} size={ann} segs={["R", ["2", "sup"]]} />
      <Rich x={527} y={40.5} size={ann} segs={["0.04, P"]} />
      <Rich x={565} y={40.5} size={ann} segs={["0.0014"]} />
      <Rich x={442.3} y={52.2} size={ann} segs={["Post-monsoon"]} />
      <Rich x={508} y={52.2} size={ann} segs={["R", ["2", "sup"]]} />
      <Rich x={527} y={52.2} size={ann} segs={["0.11, P"]} />
      <Rich x={565} y={52.2} size={ann} segs={["0.0001"]} />
      <Rich x={668} y={35} size={15} segs={["(B)"]} />
      <Rich x={552} y={243} size={title} anchor="middle" segs={["Log", ["10", "sub"], " Chl a ($g L  ", ["1", "sup"], ")"]} />
      <Rich x={372} y={123} size={title} anchor="middle" rotate segs={["Log", ["10", "sub"], " SD (m)"]} />

      {/* (C) */}
      <Axes L={LC} s={sC} xt={cXTicks} xm={cXMinor} yt={cYTicks} ym={cYMinor} />
      <Dots data={chlTss} s={sC} />
      <FitLine fit={fitC} s={sC} />
      <Rich x={48.3} y={283.5} size={ann} segs={["Linear paradigm:"]} />
      <Rich x={48.3} y={295} size={ann} segs={["Log", ["10", "sub"], " (TSS)"]} />
      <Rich x={119} y={295} size={ann} segs={["0.10"]} />
      <Rich x={142} y={295} size={ann} segs={["0.88 Log", ["10", "sub"], " (Chl a)"]} />
      <Rich x={48.3} y={307} size={ann} segs={["R", ["2", "sup"]]} />
      <Rich x={63} y={307} size={ann} segs={["0.63, P"]} />
      <Rich x={107.3} y={307} size={ann} segs={["0.0001"]} />
      <Rich x={300.7} y={291} size={15} segs={["(C)"]} />
      <Rich x={199} y={499} size={title} anchor="middle" segs={["Log", ["10", "sub"], " Chl a ($g L  ", ["1", "sup"], ")"]} />
      <Rich x={12} y={362} size={title} anchor="middle" rotate segs={["Log", ["10", "sub"], " TSS (mg L  ", ["1", "sup"], ")"]} />

      {/* (D) */}
      <Axes L={LD} s={sD} xt={dXTicks} xm={dXMinor} yt={dYTicks} ym={dYMinor} />
      <Dots data={tssTn} s={sD} />
      <FitLine fit={fitD} s={sD} />
      <Rich x={416.7} y={283.5} size={ann} segs={["Linear paradigm:"]} />
      <Rich x={416.7} y={295} size={ann} segs={["Log", ["10", "sub"], " (TN)"]} />
      <Rich x={470} y={295} size={ann} segs={["1.78"]} />
      <Rich x={493} y={295} size={ann} segs={["0.55 Log", ["10", "sub"], " (TSS)"]} />
      <Rich x={416.7} y={307} size={ann} segs={["R", ["2", "sup"]]} />
      <Rich x={434.3} y={307} size={ann} segs={["0.68, P"]} />
      <Rich x={475} y={307} size={ann} segs={["0.0001"]} />
      <Rich x={667} y={291.5} size={15} segs={["(D)"]} />
      <Rich x={574} y={499} size={title} anchor="middle" segs={["Log", ["10", "sub"], " TSS (mg L  ", ["1", "sup"], ")"]} />
      <Rich x={372} y={362} size={title} anchor="middle" rotate segs={["Log", ["10", "sub"], " TN ($M)"]} />

      {/* (E) */}
      <Axes L={LE} s={sE} xt={eXTicks} xm={eXMinor} yt={eYTicks} ym={eYMinor} />
      <Dots data={tssTp} s={sE} />
      <FitLine fit={fitE} s={sE} />
      <Rich x={48.3} y={538.5} size={ann} segs={["Linear paradigm:"]} />
      <Rich x={48.3} y={551} size={ann} segs={["Log", ["10", "sub"], " (TP)"]} />
      <Rich x={105} y={551} size={ann} segs={["0.51"]} />
      <Rich x={128} y={551} size={ann} segs={["0.85 Log", ["10", "sub"], " (TSS)"]} />
      <Rich x={48.3} y={563.5} size={ann} segs={["R", ["2", "sup"]]} />
      <Rich x={63} y={563.5} size={ann} segs={["0.77, P"]} />
      <Rich x={107.3} y={563.5} size={ann} segs={["0.0001"]} />
      <Rich x={300.7} y={544} size={15} segs={["(E)"]} />
      <Rich x={207} y={753} size={title} anchor="middle" segs={["Log", ["10", "sub"], " TSS (mg L  ", ["1", "sup"], ")"]} />
      <Rich x={12} y={628} size={title} anchor="middle" rotate segs={["Log", ["10", "sub"], " TP ($M)"]} />
    </svg>
  );
}
